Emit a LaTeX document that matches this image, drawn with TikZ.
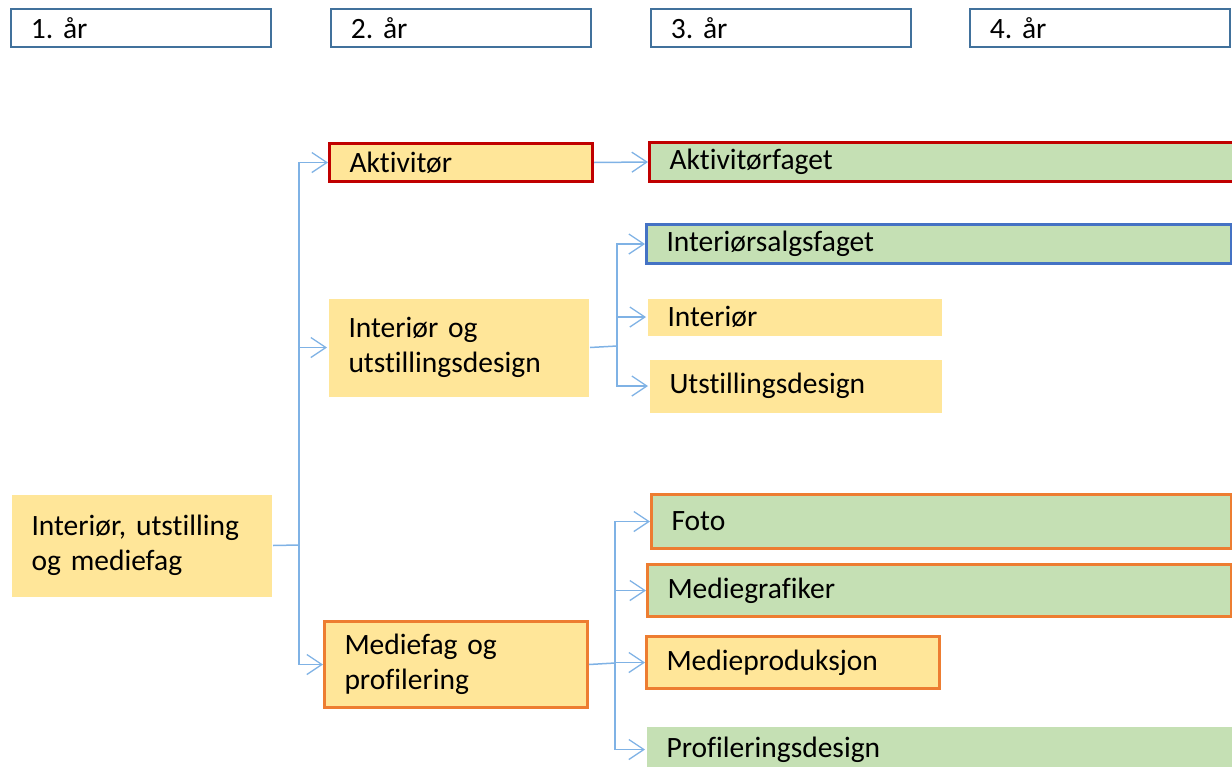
\documentclass[tikz,border=0pt]{standalone}
\usepackage{fontspec}
\setmainfont{Carlito}[Ligatures={NoCommon}]
\usetikzlibrary{arrows.meta}
\definecolor{hdrblue}{HTML}{41719C}
\definecolor{ylw}{HTML}{FFE699}
\definecolor{grn}{HTML}{C5E0B4}
\definecolor{redb}{HTML}{C00000}
\definecolor{bluebd}{HTML}{4472C4}
\definecolor{orgb}{HTML}{ED7D31}
\definecolor{conncol}{HTML}{7FB2E5}
\tikzset{
  box/.style={rectangle, anchor=north west, inner xsep=20pt, inner ysep=0pt, align=left,
    font=\fontsize{29.5}{35}\selectfont\frenchspacing, line width=3pt},
  hdr/.style={box, draw=hdrblue, line width=1.6pt, fill=white},
  conn/.style={draw=conncol, line width=1.5pt, -{Straight Barb[length=15pt,width=20pt,line width=1.3pt]}},
  link/.style={draw=conncol, line width=1.5pt}
}
\begin{document}
\begin{tikzpicture}[x=1pt,y=-1pt]
\useasboundingbox (0,0) rectangle (1232,766);
% headers
\node[hdr, minimum width=260pt, minimum height=38pt, text width=220pt] (h1) at (10,8) {1. år};
\node[hdr, minimum width=260pt, minimum height=38pt, text width=220pt] (h2) at (330,8) {2. år};
\node[hdr, minimum width=260pt, minimum height=38pt, text width=220pt] (h3) at (650,8) {3. år};
\node[hdr, minimum width=260pt, minimum height=38pt, text width=220pt] (h4) at (969,8) {4. år};
% year 1
\node[box, fill=ylw, minimum width=260pt, minimum height=102pt, text width=220pt] (root) at (10,493) {Interiør, utstilling\\og mediefag};
% year 2
\node[box, fill=ylw, draw=redb, minimum width=263pt, minimum height=38pt, text width=223pt] (akt) at (328,142) {Aktivitør};
\node[box, fill=ylw, minimum width=260pt, minimum height=98pt, text width=220pt] (ius) at (327,297) {Interiør og\\utstillingsdesign};
\node[box, fill=ylw, draw=orgb, minimum width=263pt, minimum height=86pt, text width=223pt] (mp) at (323,620) {Mediefag og\\profilering};
% year 3
\node[box, fill=grn, draw=redb, minimum width=600pt, minimum height=39pt, text width=560pt] (aktf) at (648,141) {Aktivitørfaget};
\node[box, fill=grn, draw=bluebd, minimum width=585pt, minimum height=39pt, text width=545pt] (isf) at (645,223) {Interiørsalgsfaget};
\node[box, fill=ylw, minimum width=294pt, minimum height=37pt, text width=254pt] (int) at (646,297) {Interiør};
\node[box, fill=ylw, minimum width=292pt, minimum height=53pt, text width=252pt] (utd) at (648,358) {Utstillingsdesign};
\node[box, fill=grn, draw=orgb, minimum width=580pt, minimum height=54pt, text width=540pt] (foto) at (650,493) {Foto};
\node[box, fill=grn, draw=orgb, minimum width=584pt, minimum height=52pt, text width=544pt] (mg) at (646,563) {Mediegrafiker};
\node[box, fill=ylw, draw=orgb, minimum width=293pt, minimum height=52pt, text width=253pt] (mprod) at (645,635) {Medieproduksjon};
\node[box, fill=grn, minimum width=585pt, minimum height=46pt, text width=545pt] (pd) at (645,725) {Profileringsdesign};
% junctions
\coordinate (j1) at (299,545);
\coordinate (j2) at (617,346);
\coordinate (j3) at (615,663);
% connectors
\draw[link] (root.east) -- (j1);
\draw[conn] (j1) |- (akt.west);
\draw[conn] (j1) |- (ius.west);
\draw[conn] (j1) |- (mp.west);
\draw[conn] (akt.east) -- (aktf.west);
\draw[link] (ius.east) -- (j2);
\draw[conn] (j2) |- (isf.west);
\draw[conn] (j2) |- (int.west);
\draw[conn] (j2) |- (utd.west);
\draw[link] (mp.east) -- (j3);
\draw[conn] (j3) |- (foto.west);
\draw[conn] (j3) |- (mg.west);
\draw[conn] (j3) |- (mprod.west);
\draw[conn] (j3) |- (pd.west);
\end{tikzpicture}
\end{document}
